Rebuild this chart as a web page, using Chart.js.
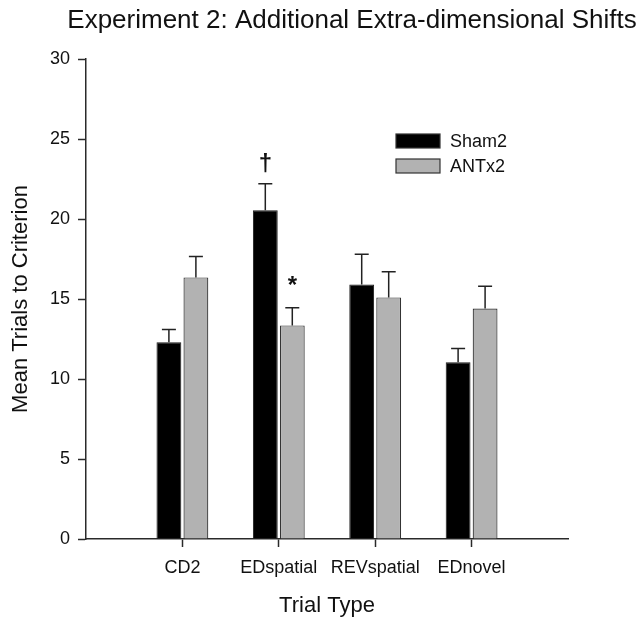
<!DOCTYPE html>
<html>
<head>
<meta charset="utf-8">
<script src="https://cdn.jsdelivr.net/npm/chart.js@4/dist/chart.umd.min.js"></script>
<style>
  html, body { margin: 0; padding: 0; background: #fff; }
  #wrap { width: 641px; height: 619px; }
</style>
</head>
<body>
<div id="wrap"><canvas id="chart" width="641" height="619"></canvas></div>
<script>
// 데이터 (empty labels at both ends give the axis its padding)
const categories = ['', 'CD2', 'EDspatial', 'REVspatial', 'EDnovel', ''];
const sham2 = [null, 12.3, 20.55, 15.9, 11.05, null];
const sham2Err = [null, 0.8, 1.65, 1.9, 0.85, null];
const antx2 = [null, 16.35, 13.35, 15.1, 14.4, null];
const antx2Err = [null, 1.3, 1.1, 1.6, 1.4, null];
const sham2Marks = ['', '', '\u2020', '', '', ''];
const antx2Marks = ['', '', '*', '', '', ''];
const yTicks = [0, 5, 10, 15, 20, 25, 30];

const FONT = '"Liberation Sans", Arial, sans-serif';
const AXIS = '#2a2a2a';

// 에러바 + 표시 기호
const errorBars = {
    id: 'errorBars',
    afterDatasetsDraw(chart) {
        const { ctx, scales: { y } } = chart;
        const errs = [sham2Err, antx2Err];
        const marks = [sham2Marks, antx2Marks];
        chart.data.datasets.forEach((ds, di) => {
            const meta = chart.getDatasetMeta(di);
            meta.data.forEach((bar, i) => {
                const v = ds.data[i];
                if (v == null) return;
                const top = y.getPixelForValue(v);
                const cap = y.getPixelForValue(v + errs[di][i]);
                ctx.save();
                ctx.strokeStyle = '#222';
                ctx.lineWidth = 1.5;
                ctx.beginPath();
                ctx.moveTo(bar.x, top);
                ctx.lineTo(bar.x, cap);
                ctx.moveTo(bar.x - 7, cap);
                ctx.lineTo(bar.x + 7, cap);
                ctx.stroke();
                if (marks[di][i]) {
                    ctx.fillStyle = '#111';
                    ctx.font = 'bold 24px ' + FONT;
                    ctx.textAlign = 'center';
                    ctx.textBaseline = 'middle';
                    ctx.fillText(marks[di][i], bar.x, cap - (di === 0 ? 19 : 21));
                }
                ctx.restore();
            });
        });
    }
};

// 제목 + 범례 직접 그리기
const decorations = {
    id: 'decorations',
    afterDraw(chart) {
        const { ctx } = chart;
        ctx.save();
        ctx.fillStyle = '#111';
        ctx.font = '26px ' + FONT;
        ctx.textAlign = 'center';
        ctx.textBaseline = 'middle';
        ctx.fillText('Experiment 2: Additional Extra-dimensional Shifts', 352, 21);

        ctx.font = '18px ' + FONT;
        ctx.textAlign = 'left';
        chart.data.datasets.forEach((ds, i) => {
            const yy = 134 + i * 25;
            ctx.fillStyle = ds.backgroundColor;
            ctx.fillRect(396, yy, 44, 14);
            ctx.strokeStyle = '#333';
            ctx.lineWidth = 1.2;
            ctx.strokeRect(396, yy, 44, 14);
            ctx.fillStyle = '#111';
            ctx.fillText(ds.label, 450, yy + 8);
        });
        ctx.restore();
    }
};

new Chart(document.getElementById('chart'), {
    type: 'bar',
    data: {
        labels: categories,
        datasets: [
            { label: 'Sham2', data: sham2, backgroundColor: '#000000', borderColor: '#1a1a1a', borderWidth: 1 },
            { label: 'ANTx2', data: antx2, backgroundColor: '#b2b2b2', borderColor: '#333333', borderWidth: 1.2 }
        ]
    },
    options: {
        responsive: false,
        animation: false,
        layout: { padding: { top: 59, right: 73, left: 0, bottom: 0 } },
        plugins: {
            legend: { display: false },
            tooltip: { enabled: false }
        },
        datasets: { bar: { categoryPercentage: 0.56, barPercentage: 0.92 } },
        scales: {
            x: {
                offset: false,
                grid: {
                    offset: false,
                    drawOnChartArea: false,
                    tickLength: 8,
                    tickWidth: 1.5,
                    tickColor: c => (categories[c.index] ? AXIS : 'rgba(0,0,0,0)')
                },
                border: { color: AXIS, width: 1.5 },
                ticks: { color: '#111', font: { family: FONT, size: 18 }, padding: 10, maxRotation: 0, autoSkip: false },
                title: { display: true, text: 'Trial Type', color: '#111', font: { family: FONT, size: 22 }, padding: { top: 10, bottom: 0 } },
                afterFit: s => { s.height = 80; }
            },
            y: {
                min: 0,
                max: 30,
                afterBuildTicks: s => { s.ticks = yTicks.map(v => ({ value: v })); },
                grid: { drawOnChartArea: false, tickLength: 8, tickWidth: 1.5, tickColor: AXIS },
                border: { color: AXIS, width: 1.5 },
                ticks: { color: '#111', font: { family: FONT, size: 18 }, padding: 8 },
                title: { display: true, text: 'Mean Trials to Criterion', color: '#111', font: { family: FONT, size: 22 }, padding: { top: 8, bottom: 0 } },
                afterFit: s => { s.width = 86; }
            }
        }
    },
    plugins: [errorBars, decorations]
});
</script>
</body>
</html>
